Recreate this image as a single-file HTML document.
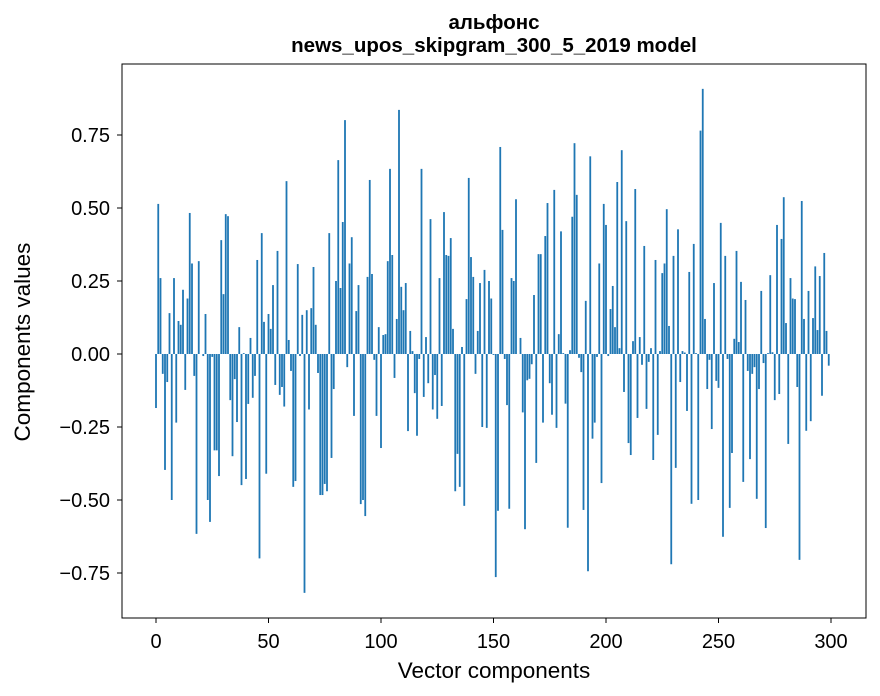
<!DOCTYPE html>
<html><head><meta charset="utf-8"><style>
body{margin:0;background:#fff;}
svg{display:block;font-family:"Liberation Sans","DejaVu Sans",sans-serif;}
</style></head><body>
<svg id="chart" width="880" height="696" viewBox="0 0 880 696">
<rect x="0" y="0" width="880" height="696" fill="#fff"/>
<text x="494" y="29" text-anchor="middle" font-size="20.5" font-weight="bold">альфонс</text>
<text x="494" y="52" text-anchor="middle" font-size="20.5" font-weight="bold">news_upos_skipgram_300_5_2019 model</text>
<g id="bars"></g>
<g id="axes"></g>
<rect x="122" y="64" width="744" height="554" fill="none" stroke="#000" stroke-width="1"/>
<text x="494" y="678" text-anchor="middle" font-size="22.5">Vector components</text>
<text x="0" y="0" transform="translate(30,342) rotate(-90)" text-anchor="middle" font-size="22.5">Components values</text>
</svg>
<script>
const values1 = [-0.185,0.514,0.26,-0.068,-0.397,-0.096,0.14,-0.5,0.26,-0.235,0.113,0.1,0.22,-0.123,0.19,0.483,0.31,-0.075,-0.616,0.318,0,-0.007,0.137,-0.5,-0.575,-0.01,-0.33,-0.33,-0.418,0.39,0.205,0.479,0.472,-0.158,-0.35,-0.086,-0.233,0.092,-0.449,0.003,-0.428,-0.171,0.055,-0.15,-0.075,0.322,-0.7,0.414,0.11,-0.41,0.137,0.086,0.236,-0.106,0.353,-0.14,-0.113,-0.18,0.592,0.048,-0.058,-0.455,-0.435,0.308,-0.007,0.134,-0.818,0.15,-0.19,0.157,0.298,0.1,-0.065,-0.483,-0.483];
const values2 = [-0.445,-0.47,0.414,-0.356,-0.12,0.25,0.664,0.226,0.452,0.801,-0.045,0.31,0.4,-0.212,0.147,0.236,-0.514,-0.5,-0.555,0.264,0.596,0.274,-0.02,-0.212,0.092,-0.322,0.065,0.068,0.318,0.634,0.339,-0.082,0.12,0.836,0.23,0.15,0.243,-0.264,0.079,0.01,-0.134,-0.28,-0.017,0.634,-0.147,0.058,-0.1,0.462,-0.19,-0.072,-0.222,0.26,-0.178,0.486,0.339,0.336,0.397,0.086,-0.47,-0.342,-0.455,0.024,-0.52,0.188,0.603,0.332,0.264,-0.068,0.079,0.243,-0.25,0.288,-0.253,0.25,0.19];
const values3 = [-0.003,-0.764,-0.537,0.709,0.425,-0.017,-0.175,-0.53,0.26,0.25,0.53,0,0.055,-0.2,-0.6,-0.09,-0.085,-0.035,0.202,-0.373,0.342,0.342,-0.235,0.404,0.517,-0.1,-0.208,0.562,-0.253,0.068,0.42,0.003,-0.17,-0.595,0.013,0.47,0.722,0.545,-0.013,-0.062,-0.534,0.182,-0.744,0.677,-0.29,-0.235,-0.01,0.31,-0.442,0.514,0.442,-0.007,0.154,0.233,0.092,0.589,0.02,0.698,-0.13,0.455,-0.305,-0.346,0.044,0.565,-0.219,0.058,-0.037,0.37,-0.188,-0.027,0.02,-0.363,0.322];
const values4 = [-0.277,0.01,0.277,0.31,0.496,0.096,-0.72,0.336,-0.39,0.427,-0.096,0.01,0.005,-0.195,0.281,-0.513,0.377,0.003,-0.5,0.765,0.908,0.12,-0.12,-0.02,-0.257,0.243,-0.092,-0.116,0.449,-0.626,0.336,-0.017,-0.527,-0.339,0.052,0.353,0.041,0.247,-0.438,0.185,-0.058,-0.36,-0.068,-0.045,-0.496,-0.12,0.216,-0.031,-0.596,0.003,0.27,0.006,-0.158,0.442,-0.137,0.394,0.537,0.106,-0.308,0.26,0.19,0.188,-0.113,-0.705,0.524,0.12,-0.263,0.216,-0.23,0.123,0.3,0.082,0.267,-0.143,0.346,0.079,-0.04];
const values = values1.concat(values2, values3, values4);
const xTicks = [0,50,100,150,200,250,300];
const yTicks = [-0.75,-0.5,-0.25,0,0.25,0.5,0.75];
const yTickLabels = ["\u22120.75","\u22120.50","\u22120.25","0.00","0.25","0.50","0.75"];

const NS = "http://www.w3.org/2000/svg";
function xScale(i){ return 156 + 2.25 * i; }
function yScale(v){ return 354 - v * 292; }
const barsG = document.getElementById('bars');
values.forEach(function(v, i){
  const r = document.createElementNS(NS, 'rect');
  const y0 = yScale(0), y1 = yScale(v);
  r.setAttribute('x', xScale(i) - 0.9);
  r.setAttribute('width', 1.8);
  r.setAttribute('y', Math.min(y0, y1));
  r.setAttribute('height', Math.max(Math.abs(y1 - y0), 0.01));
  r.setAttribute('fill', '#1f77b4');
  
  
  barsG.appendChild(r);
});
const axesG = document.getElementById('axes');
xTicks.forEach(function(t){
  const x = xScale(t);
  const l = document.createElementNS(NS, 'line');
  l.setAttribute('x1', x); l.setAttribute('x2', x);
  l.setAttribute('y1', 618); l.setAttribute('y2', 623);
  l.setAttribute('stroke', '#000');
  
  
  axesG.appendChild(l);
  const tx = document.createElementNS(NS, 'text');
  tx.setAttribute('x', x); tx.setAttribute('y', 648);
  tx.setAttribute('text-anchor', 'middle'); tx.setAttribute('font-size', '20');
  tx.textContent = t;
  
  
  axesG.appendChild(tx);
});
yTicks.forEach(function(t, k){
  const y = yScale(t);
  const l = document.createElementNS(NS, 'line');
  l.setAttribute('x1', 117); l.setAttribute('x2', 122);
  l.setAttribute('y1', y); l.setAttribute('y2', y);
  l.setAttribute('stroke', '#000');
  
  
  axesG.appendChild(l);
  const tx = document.createElementNS(NS, 'text');
  tx.setAttribute('x', 110); tx.setAttribute('y', y + 7);
  tx.setAttribute('text-anchor', 'end'); tx.setAttribute('font-size', '20');
  tx.textContent = yTickLabels[k];
  
  
  axesG.appendChild(tx);
});
</script>
</body></html>
